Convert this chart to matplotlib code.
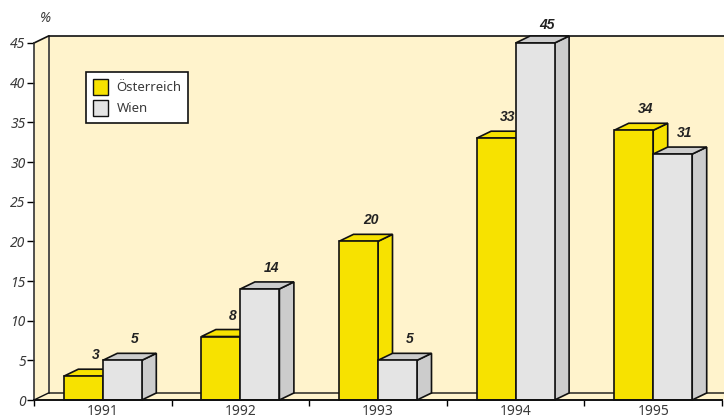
import matplotlib
matplotlib.use('Agg')
import matplotlib.pyplot as plt
from matplotlib.patches import Polygon, Patch
import numpy as np

YEARS = ['1991', '1992', '1993', '1994', '1995']
OESTERREICH = [3, 8, 20, 33, 34]
WIEN = [5, 14, 5, 45, 31]
YTICKS = [0, 5, 10, 15, 20, 25, 30, 35, 40, 45]

WALL = '#fff3cc'
YELLOW = '#f7e200'
GREY = '#e4e4e4'
GREY_DARK = '#cccccc'
TEXT = '#3a3a3a'

plt.rcParams['font.family'] = ['Noto Sans', 'DejaVu Sans']

W, H = 724, 419
fig = plt.figure(figsize=(W / 100, H / 100), dpi=100)
ax = fig.add_axes([34 / W, (H - 400) / H, 688 / W, 357 / H])
ax.set_xlim(0, 5)
ax.set_ylim(0, 45)

# depth of the fake 3d, in data units
dx = 14.5 / 137.6
dy = 7 / (357 / 45)
width = 39 / 137.6


def poly(pts, color, lw=1.2, z=2):
    ax.add_patch(Polygon(pts, closed=True, facecolor=color, edgecolor='#111111',
                         linewidth=lw, clip_on=False, zorder=z, joinstyle='miter'))


def bar3d(x0, h, front, side, z):
    x1 = x0 + width
    poly([(x1, 0), (x1 + dx, dy), (x1 + dx, h + dy), (x1, h)], side, z=z)
    poly([(x0, h), (x0 + dx, h + dy), (x1 + dx, h + dy), (x1, h)], side, z=z)
    poly([(x0, 0), (x1, 0), (x1, h), (x0, h)], front, z=z)
    # tallest label sits a little closer to its bar in the original
    off = 18 if h == max(YTICKS) else 21
    ax.text(x0 + width / 2 + 12 / 137.6, h + off / (357 / 45), str(h), ha='center', va='center',
            fontsize=10, fontweight='bold', fontstyle='italic', color='#222222', zorder=20,
            family='Liberation Sans')


# walls and floor
right = 5.02
ax.add_patch(Polygon([(dx, dy), (right, dy), (right, 45 + dy), (dx, 45 + dy)],
                     facecolor=WALL, edgecolor='none', clip_on=False, zorder=0))
ax.add_patch(Polygon([(0, 0), (dx, dy), (dx, 45 + dy), (0, 45)],
                     facecolor=WALL, edgecolor='none', clip_on=False, zorder=0))
ax.add_patch(Polygon([(0, 0), (dx, dy), (right, dy), (right, 0)],
                     facecolor=WALL, edgecolor='none', clip_on=False, zorder=0))
ax.plot([dx, dx], [dy, 45 + dy], color='#333333', lw=1.2, clip_on=False, zorder=1)
ax.plot([0, dx, right], [45, 45 + dy, 45 + dy], color='#111111', lw=1.2, clip_on=False, zorder=1)
ax.plot([0, dx, right], [0, dy, dy], color='#111111', lw=1.0, clip_on=False, zorder=1)

for i in range(len(YEARS)):
    z = 3 + i
    bar3d(i + 0.5 - width, OESTERREICH[i], YELLOW, YELLOW, z)
    bar3d(i + 0.5, WIEN[i], GREY, GREY_DARK, z)

for s in ['top', 'right']:
    ax.spines[s].set_visible(False)
ax.spines['left'].set_color('#333333')
ax.spines['left'].set_linewidth(1.2)
ax.spines['bottom'].set_color('#111111')
ax.spines['bottom'].set_linewidth(1.4)
ax.spines['bottom'].set_zorder(15)
ax.patch.set_visible(False)

ax.set_yticks(YTICKS)
ax.set_yticklabels(YTICKS, fontstyle='italic', fontsize=10, color=TEXT)
ax.set_xticks(range(6))
ax.set_xticklabels([])
ax.set_xticks(np.arange(5) + 0.5, YEARS, minor=True, fontsize=10, color=TEXT)
ax.tick_params(axis='y', length=5, width=1, pad=1)
ax.tick_params(axis='x', which='major', length=4, width=1)
ax.tick_params(axis='x', which='minor', length=0, pad=3)

fig.text(45 / W, 1 - 18 / H, '%', ha='center', va='center', fontsize=10,
         fontstyle='italic', color=TEXT)

handles = [Patch(facecolor=YELLOW, edgecolor='#111111', label='Österreich'),
           Patch(facecolor=GREY, edgecolor='#111111', label='Wien')]
leg = fig.legend(handles=handles, loc='upper left', bbox_to_anchor=(86 / W, 1 - 72 / H),
                 borderaxespad=0, fontsize=9.5, fancybox=False, framealpha=1,
                 edgecolor='#111111', handlelength=1.2, handleheight=1.55, handletextpad=0.6,
                 labelspacing=0.35, borderpad=0.5, labelcolor=TEXT)
leg.set_zorder(30)
leg.get_frame().set_linewidth(1.2)

fig.savefig('out.png', dpi=100)
